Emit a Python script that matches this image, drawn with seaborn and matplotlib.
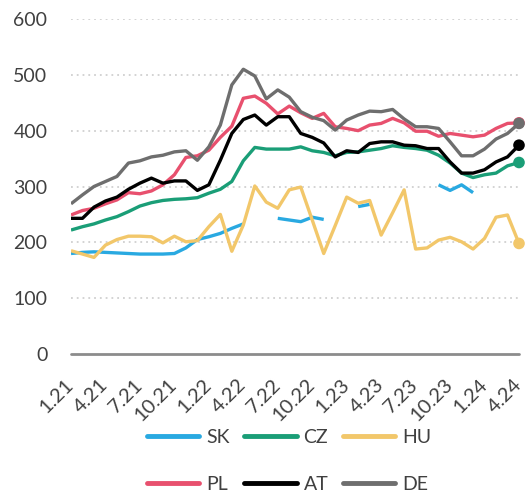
import numpy as np
import pandas as pd
import seaborn as sns
import matplotlib
matplotlib.use("Agg")
import matplotlib.pyplot as plt
from matplotlib.lines import Line2D

# monthly values, 1.21 .. 4.24 (40 months)
nan = np.nan
SK = [180, 182, 183, 182, 181, 180, 179, 179, 179, 180,
      190, 205, 210, 216, 225, 233, nan, nan, 243, 240,
      237, 245, 241, nan, nan, 264, 268, nan, nan, nan,
      nan, nan, 303, 293, 303, 289, nan, nan, nan, nan]
CZ = [222, 228, 233, 240, 246, 255, 265, 271, 275, 277,
      278, 280, 288, 295, 309, 346, 370, 367, 367, 367,
      371, 364, 361, 355, 361, 362, 365, 368, 373, 370,
      368, 365, 356, 342, 324, 316, 321, 324, 337, 343]
HU = [185, 179, 173, 195, 205, 211, 211, 210, 199, 211,
      201, 203, 228, 250, 184, 231, 301, 272, 261, 294,
      299, 240, 180, 230, 281, 270, 275, 213, 253, 294,
      188, 190, 204, 209, 201, 188, 207, 245, 249, 198]
PL = [249, 257, 261, 269, 276, 289, 287, 292, 303, 321,
      352, 355, 365, 388, 408, 458, 462, 449, 430, 444,
      432, 422, 431, 407, 404, 400, 410, 413, 422, 414,
      399, 399, 390, 395, 392, 389, 392, 404, 413, 414]
AT = [243, 243, 263, 274, 281, 295, 306, 315, 306, 310,
      310, 293, 303, 347, 395, 420, 428, 410, 425, 425,
      395, 388, 378, 353, 364, 361, 377, 380, 380, 374,
      373, 368, 368, 344, 324, 324, 330, 344, 353, 374]
DE = [269, 285, 300, 309, 318, 342, 346, 353, 356, 362,
      364, 347, 371, 410, 482, 510, 498, 457, 473, 460,
      434, 424, 418, 401, 419, 428, 435, 434, 438, 421,
      407, 407, 404, 380, 355, 355, 367, 385, 395, 413]

tick_labels = ["1.21", "4.21", "7.21", "10.21", "1.22", "4.22", "7.22",
               "10.22", "1.23", "4.23", "7.23", "10.23", "1.24", "4.24"]

colors = {"SK": "#29a9e1", "CZ": "#1a9e77", "HU": "#f2c76a",
          "PL": "#e8506e", "AT": "#000000", "DE": "#6e6e6e"}
series = {"SK": SK, "CZ": CZ, "HU": HU, "PL": PL, "AT": AT, "DE": DE}

sns.set_style("white")
plt.rcParams["font.family"] = ["Lato", "DejaVu Sans"]

fig = plt.figure(figsize=(5.29, 4.95), dpi=100)
ax = fig.add_axes([71 / 529, 1 - 354 / 495, 448 / 529, 335 / 495])

for y in range(100, 601, 100):
    ax.axhline(y, color="#d0d0d0", lw=1.3, ls=(0, (1, 2.2)), zorder=0)

n = len(DE)
for name in ["SK", "CZ", "HU", "PL", "AT", "DE"]:
    vals = np.array(series[name], dtype=float)
    df = pd.DataFrame({"i": np.arange(n), "v": vals})
    # split into segments so gaps stay gaps
    df["seg"] = df["v"].isna().cumsum()
    df = df.dropna()
    sns.lineplot(data=df, x="i", y="v", units="seg", estimator=None,
                 color=colors[name], lw=2.4, ax=ax, legend=False,
                 solid_capstyle="butt", zorder=3)
    if name != "SK":
        last = df.iloc[[-1]]
        sns.scatterplot(data=last, x="i", y="v", color=colors[name], s=70,
                        edgecolor="none", ax=ax, legend=False, zorder=4,
                        clip_on=False)

ax.axhline(0, color="#8c8c8c", lw=2, zorder=2, clip_on=False)

ax.set_xlim(0, n - 1)
ax.set_ylim(0, 600)
ax.set_xticks(np.arange(0, n, 3))
ax.set_xticklabels(tick_labels, rotation=45, ha="right", va="center",
                   rotation_mode="anchor", fontsize=14.5, color="#404040")
ax.set_yticks(range(0, 601, 100))
ax.tick_params(axis="y", labelsize=14, labelcolor="#404040", length=0, pad=17)
ax.tick_params(axis="x", length=0, pad=20)
ax.set_xlabel("")
ax.set_ylabel("")
for s in ax.spines.values():
    s.set_visible(False)

order = ["SK", "PL", "CZ", "AT", "HU", "DE"]
handles = [Line2D([0], [0], color=colors[k], lw=3.5) for k in order]
fig.legend(handles, order, loc="center", bbox_to_anchor=(289 / 529, 1 - 461 / 495),
           ncol=3, frameon=False, fontsize=14, handlelength=2.7,
           handletextpad=0.35, columnspacing=0.75, labelspacing=1.55,
           labelcolor="#404040")

fig.savefig("out.png", dpi=100)
